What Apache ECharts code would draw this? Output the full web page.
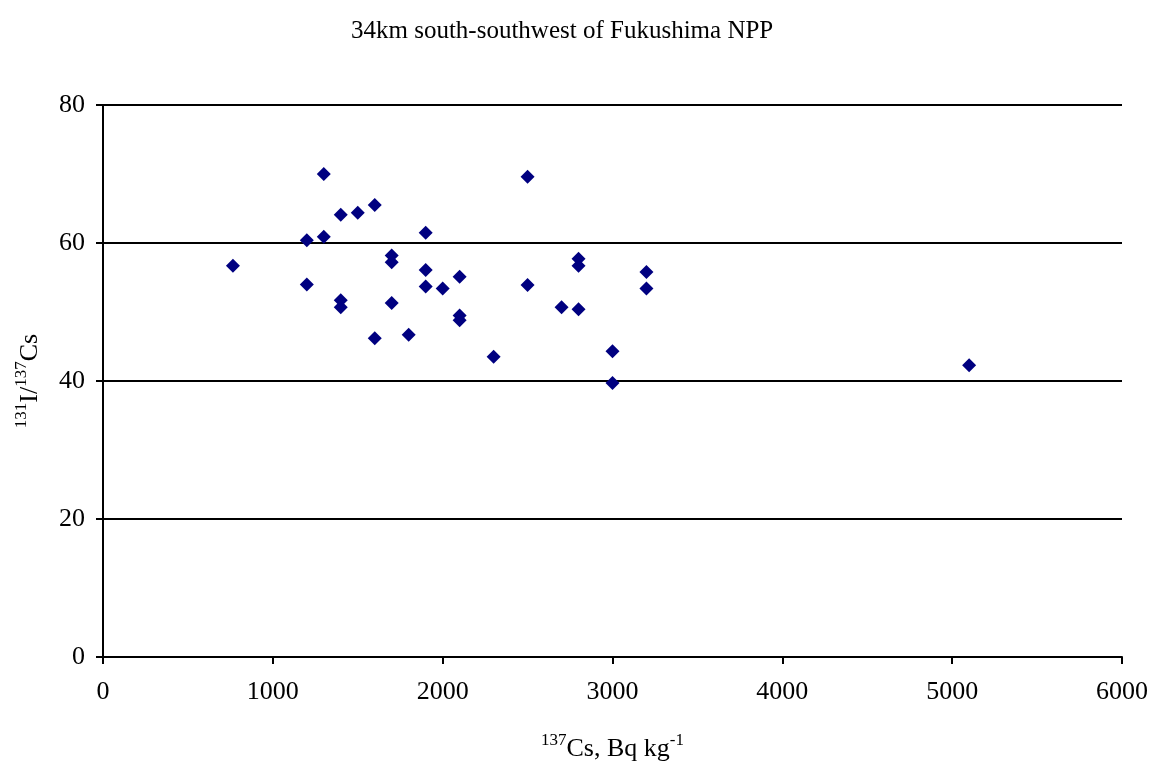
<!DOCTYPE html>
<html>
<head>
<meta charset="utf-8">
<script src="https://cdn.jsdelivr.net/npm/echarts@6/dist/echarts.min.js"></script>
<style>
html,body{margin:0;padding:0;background:#fff;}
#chart{width:1151px;height:767px;}
</style>
</head>
<body>
<div id="chart"></div>
<script>
const titleText = '34km south-southwest of Fukushima NPP';
const xTicks = [0, 1000, 2000, 3000, 4000, 5000, 6000];
const yTicks = [0, 20, 40, 60, 80];
const csValues = [
  765, 1200, 1200, 1300, 1300, 1400, 1400, 1400, 1500, 1600, 1600,
  1700, 1700, 1700, 1800, 1900, 1900, 1900, 2000, 2100, 2100, 2100,
  2300, 2500, 2500, 2700, 2800, 2800, 2800, 3000, 3000, 3200, 3200, 5100
];
const ratioValues = [
  56.7, 60.4, 54.0, 70.0, 60.9, 64.1, 51.7, 50.7, 64.4, 65.5, 46.2,
  58.2, 57.2, 51.3, 46.7, 61.5, 56.1, 53.7, 53.4, 55.1, 49.5, 48.8,
  43.5, 69.6, 53.9, 50.7, 57.7, 56.7, 50.4, 44.3, 39.7, 55.8, 53.4, 42.3
];

const points = csValues.map((x, i) => [x, ratioValues[i]]);
const font = '"Liberation Serif", "Times New Roman", serif';

const chart = echarts.init(document.getElementById('chart'), null, {renderer: 'canvas'});
chart.setOption({
  backgroundColor: '#ffffff',
  animation: false,
  title: {
    text: titleText,
    left: 346,
    top: 14,
    textStyle: {fontFamily: font, fontSize: 25, fontWeight: 'normal', color: '#000'}
  },
  grid: {left: 103, right: 29, top: 105, bottom: 103, containLabel: false},
  xAxis: {
    type: 'value',
    min: xTicks[0],
    max: xTicks[xTicks.length - 1],
    interval: xTicks[1] - xTicks[0],
    name: '{sup|137}{b|Cs, Bq kg}{sup|-1}',
    nameLocation: 'middle',
    nameGap: 75,
    nameTextStyle: {
      fontFamily: font, color: '#000',
      rich: {
        b: {fontFamily: font, fontSize: 26, color: '#000', lineHeight: 30, verticalAlign: 'bottom'},
        sup: {fontFamily: font, fontSize: 17, color: '#000', lineHeight: 30, verticalAlign: 'top'}
      }
    },
    axisLine: {show: true, lineStyle: {color: '#000', width: 2}},
    axisTick: {show: true, inside: false, length: 7, lineStyle: {color: '#000', width: 2}},
    axisLabel: {fontFamily: font, fontSize: 26, color: '#000', margin: 22,
      formatter: v => String(v)},
    splitLine: {show: false}
  },
  yAxis: {
    type: 'value',
    min: yTicks[0],
    max: yTicks[yTicks.length - 1],
    interval: yTicks[1] - yTicks[0],
    name: '{sup|131}{b|I/}{sup|137}{b|Cs}',
    nameLocation: 'middle',
    nameGap: 60,
    nameTextStyle: {
      fontFamily: font, color: '#000',
      rich: {
        b: {fontFamily: font, fontSize: 26, color: '#000', lineHeight: 30, verticalAlign: 'bottom'},
        sup: {fontFamily: font, fontSize: 17, color: '#000', lineHeight: 30, verticalAlign: 'top'}
      }
    },
    axisLine: {show: true, lineStyle: {color: '#000', width: 2}},
    axisTick: {show: true, inside: false, length: 7, lineStyle: {color: '#000', width: 2}},
    axisLabel: {fontFamily: font, fontSize: 26, color: '#000', margin: 18},
    splitLine: {show: true, lineStyle: {color: '#000', width: 2}}
  },
  series: [{
    type: 'scatter',
    data: points,
    symbol: 'diamond',
    symbolSize: 14,
    itemStyle: {color: '#000080', opacity: 1},
    emphasis: {disabled: true}
  }]
});
</script>
</body>
</html>
